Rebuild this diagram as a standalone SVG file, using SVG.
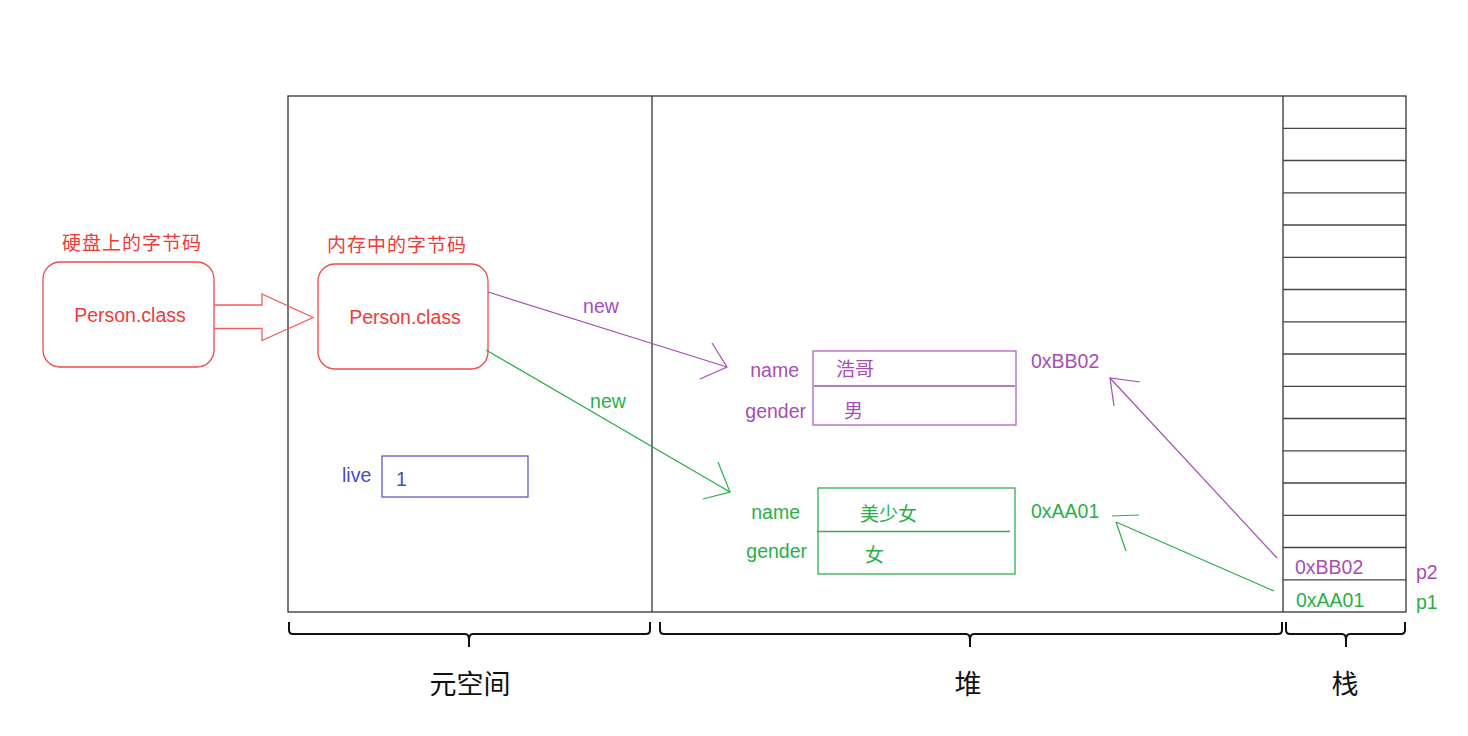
<svg xmlns="http://www.w3.org/2000/svg" width="1468" height="736" viewBox="0 0 1468 736">
<style>
text{font-family:"Liberation Sans","Noto Sans CJK SC",sans-serif;font-size:19.5px}
.red{fill:#f03a3a}
.pur{fill:#a84cb8}
.grn{fill:#28b048}
.blu{fill:#4848c8}
.cjk{font-family:"Noto Sans CJK SC","Liberation Sans",sans-serif;font-size:19px}
.lbl{letter-spacing:1px}
.frame{fill:none;stroke:#333;stroke-width:1.3}
.row{stroke:#444;stroke-width:1.3}
.brace{fill:none;stroke:#111;stroke-width:2}
.big{font-family:"Noto Sans CJK SC",serif;font-size:27px;fill:#111;text-anchor:middle}
</style>
<rect width="1468" height="736" fill="#fff"/>
<g id="frame">
<rect class="frame" x="288" y="96" width="1118" height="516"/>
<line class="frame" x1="652" y1="96" x2="652" y2="612"/>
<line class="frame" x1="1283" y1="96" x2="1283" y2="612"/>
</g>
<g id="stack">
<line class="row" x1="1283" y1="128.3" x2="1406" y2="128.3"/>
<line class="row" x1="1283" y1="160.5" x2="1406" y2="160.5"/>
<line class="row" x1="1283" y1="192.8" x2="1406" y2="192.8"/>
<line class="row" x1="1283" y1="225" x2="1406" y2="225"/>
<line class="row" x1="1283" y1="257.3" x2="1406" y2="257.3"/>
<line class="row" x1="1283" y1="289.5" x2="1406" y2="289.5"/>
<line class="row" x1="1283" y1="321.8" x2="1406" y2="321.8"/>
<line class="row" x1="1283" y1="354" x2="1406" y2="354"/>
<line class="row" x1="1283" y1="386.3" x2="1406" y2="386.3"/>
<line class="row" x1="1283" y1="418.5" x2="1406" y2="418.5"/>
<line class="row" x1="1283" y1="450.8" x2="1406" y2="450.8"/>
<line class="row" x1="1283" y1="483" x2="1406" y2="483"/>
<line class="row" x1="1283" y1="515.3" x2="1406" y2="515.3"/>
<line class="row" x1="1283" y1="547.5" x2="1406" y2="547.5"/>
<line class="row" x1="1283" y1="579.8" x2="1406" y2="579.8"/>
<text class="pur" x="1295" y="574">0xBB02</text>
<text class="grn" x="1296" y="607">0xAA01</text>
<text class="pur" x="1416" y="579">p2</text>
<text class="grn" x="1416" y="609">p1</text>
</g>
<g id="disk-class">
<text class="red cjk lbl" x="62" y="250">硬盘上的字节码</text>
<rect x="43" y="262" width="171" height="105" rx="17" fill="none" stroke="#f04a4a" stroke-width="1.3"/>
<text class="red" x="130" y="322" text-anchor="middle">Person.class</text>
</g>
<g id="mem-class">
<text class="red cjk lbl" x="327" y="252">内存中的字节码</text>
<rect x="318" y="264" width="170" height="105" rx="17" fill="none" stroke="#f04a4a" stroke-width="1.3"/>
<text class="red" x="405" y="324" text-anchor="middle">Person.class</text>
</g>
<g id="live">
<text class="blu" x="342" y="482">live</text>
<rect x="382" y="456" width="146" height="41" fill="none" stroke="#5a5ad0" stroke-width="1.3"/>
<text class="blu" x="396" y="486">1</text>
</g>
<g id="obj-bb02">
<rect x="813" y="351" width="203" height="74" fill="none" stroke="#b060c0" stroke-width="1.3"/>
<line x1="814" y1="386" x2="1015" y2="386" stroke="#a050b0" stroke-width="1.3"/>
<text class="pur" x="799" y="377" text-anchor="end">name</text>
<text class="pur" x="806" y="418" text-anchor="end">gender</text>
<text class="pur cjk" x="836" y="376">浩哥</text>
<text class="pur cjk" x="844" y="418">男</text>
<text class="pur" x="1031" y="368">0xBB02</text>
</g>
<g id="obj-aa01">
<rect x="818" y="488" width="197" height="86" fill="none" stroke="#30b050" stroke-width="1.3"/>
<line x1="817" y1="531.5" x2="1010" y2="531.5" stroke="#30b050" stroke-width="1.3"/>
<text class="grn" x="800" y="519" text-anchor="end">name</text>
<text class="grn" x="807" y="558" text-anchor="end">gender</text>
<text class="grn cjk" x="860" y="521">美少女</text>
<text class="grn cjk" x="865" y="562">女</text>
<text class="grn" x="1031" y="518">0xAA01</text>
</g>
<g id="connectors">
<path d="M214 305 H262 V294 L313 317.5 L262 340.5 V328.5 H214" fill="none" stroke="#f06060" stroke-width="1.3"/>
<g stroke="#a84cb8" stroke-width="1.2" fill="none">
<line x1="488" y1="292" x2="727" y2="367"/>
<polyline points="712,343 727,367 700,379"/>
<line x1="1277" y1="558" x2="1110" y2="378"/>
<polyline points="1140,382 1110,378 1114,406"/>
</g>
<g stroke="#28b048" stroke-width="1.2" fill="none">
<line x1="486" y1="350" x2="730" y2="492"/>
<polyline points="718,462 730,492 703,499"/>
<line x1="1274" y1="591" x2="1116" y2="522"/>
<line x1="1112" y1="516" x2="1139" y2="515"/>
<line x1="1116" y1="522" x2="1126" y2="551"/>
</g>
<text class="pur" x="601" y="313" text-anchor="middle">new</text>
<text class="grn" x="608" y="408" text-anchor="middle">new</text>
</g>
<g id="braces">
<path class="brace" d="M289 622 V630 Q289 634 293 634 H465 Q469 634 469 640 V647 M469 640 Q469 634 473 634 H646 Q650 634 650 630 V622"/>
<path class="brace" d="M660 622 V630 Q660 634 664 634 H966 Q970 634 970 640 V647 M970 640 Q970 634 974 634 H1278 Q1282 634 1282 630 V622"/>
<path class="brace" d="M1286 622 V630 Q1286 634 1290 634 H1342 Q1346 634 1346 640 V647 M1346 640 Q1346 634 1350 634 H1401 Q1405 634 1405 630 V622"/>
<text class="big" x="470" y="694">元空间</text>
<text class="big" x="968" y="694">堆</text>
<text class="big" x="1345" y="694">栈</text>
</g>
</svg>
